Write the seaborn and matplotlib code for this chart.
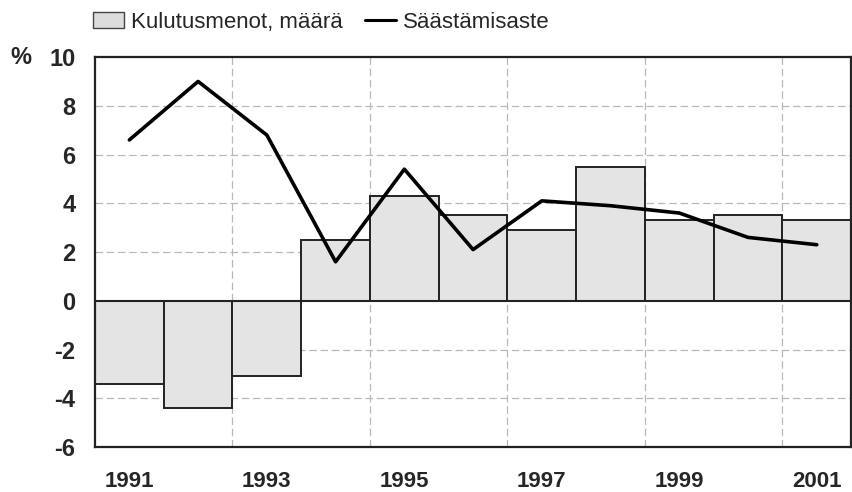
import matplotlib
matplotlib.use("Agg")
import matplotlib.pyplot as plt
import seaborn as sns
import pandas as pd
from matplotlib.patches import Patch
from matplotlib.lines import Line2D

# data
years = [1991, 1992, 1993, 1994, 1995, 1996, 1997, 1998, 1999, 2000, 2001]
kulutus = [-3.4, -4.4, -3.1, 2.5, 4.3, 3.5, 2.9, 5.5, 3.3, 3.5, 3.3]
saasto = [6.6, 9.0, 6.8, 1.6, 5.4, 2.1, 4.1, 3.9, 3.6, 2.6, 2.3]
tick_years = [1991, 1993, 1995, 1997, 1999, 2001]
y_ticks = [-6, -4, -2, 0, 2, 4, 6, 8, 10]
label_bar = "Kulutusmenot, määrä"
label_line = "Säästämisaste"

df = pd.DataFrame({"year": years, "kulutus": kulutus, "saasto": saasto})

sns.set_theme(style="white")
plt.rcParams["font.family"] = ["Liberation Sans", "DejaVu Sans"]
plt.rcParams["axes.unicode_minus"] = False

fig = plt.figure(figsize=(8.52, 4.92), dpi=100)
ax = fig.add_axes([0.1115, 0.0915, 0.8875, 0.7925])

# grid: dashed light grey, horizontal at even values, vertical between bar pairs
for y in y_ticks:
    if y not in (0, -6, 10):
        ax.axhline(y, color="#b8b8b8", lw=0.9, ls=(0, (6, 3)), zorder=0)
for x in [1992.5, 1994.5, 1996.5, 1998.5, 2000.5]:
    ax.axvline(x, color="#b8b8b8", lw=0.9, ls=(0, (6, 3)), zorder=0)

sns.barplot(data=df, x="year", y="kulutus", native_scale=True, width=1.0,
            color="#e4e4e4", saturation=1, edgecolor="#222222", linewidth=1.4,
            ax=ax, zorder=2)
for p in ax.patches:
    p.set_facecolor("#e4e4e4")

sns.lineplot(data=df, x="year", y="saasto", color="black", linewidth=2.6,
             ax=ax, zorder=4)

ax.axhline(0, color="#222222", lw=1.5, zorder=3)

ax.set_xlim(1990.5, 2001.5)
ax.set_ylim(-6, 10)
ax.set_xticks(tick_years)
ax.set_yticks(y_ticks)
ax.set_yticks(range(-5, 10, 2), minor=True)
ax.set_xlabel("")
ax.set_ylabel("")
ax.tick_params(axis="x", length=0, labelsize=16, pad=17)
ax.tick_params(axis="y", which="both", direction="in", length=4, width=0.8,
               labelsize=17, pad=14, color="#555555")
for lbl in ax.get_xticklabels() + ax.get_yticklabels():
    lbl.set_fontweight("bold")

for side in ["left", "top", "bottom", "right"]:
    ax.spines[side].set_color("#222222")
    ax.spines[side].set_linewidth(1.6)

fig.text(0.012, 0.884, "%", fontsize=17, fontweight="bold", va="center")

handles = [Patch(facecolor="#dcdcdc", edgecolor="#444444", linewidth=1.0),
           Line2D([0], [0], color="black", linewidth=2.2)]
fig.legend(handles, [label_bar, label_line], loc="center",
           bbox_to_anchor=(0.377, 0.955), ncol=2, frameon=False, fontsize=16,
           handlelength=1.4, handletextpad=0.3, columnspacing=1.0)

fig.savefig("out.png", dpi=100)
